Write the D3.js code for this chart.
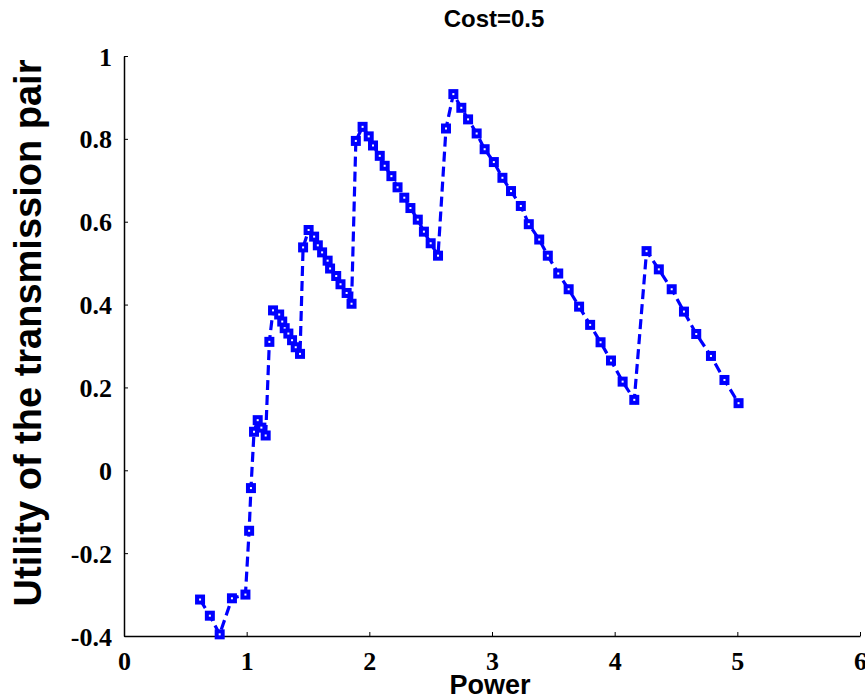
<!DOCTYPE html>
<html>
<head>
<meta charset="utf-8">
<script src="https://cdn.jsdelivr.net/npm/d3@7"></script>
<style>
  html, body { margin: 0; padding: 0; background: #fff; }
  svg { display: block; }
  .tick text { font-family: "Liberation Serif", "Times New Roman", serif; font-weight: bold; font-size: 26px; fill: #000; }
  .label { font-family: "Liberation Sans", Arial, sans-serif; font-weight: bold; fill: #000; }
</style>
</head>
<body>
<svg width="865" height="695"></svg>
<script>
(function () {
    'use strict';

    const powerValues = [0.62, 0.70, 0.78, 0.88, 0.99, 1.02, 1.035, 1.06, 1.09, 1.12, 1.155,
        1.185, 1.215, 1.265, 1.29, 1.31, 1.34, 1.37, 1.40, 1.435,
        1.46, 1.505, 1.55, 1.58, 1.615, 1.66, 1.68, 1.73, 1.765, 1.815, 1.855,
        1.89, 1.945, 1.995, 2.03, 2.085, 2.125, 2.18, 2.23, 2.285, 2.335, 2.395, 2.445, 2.50, 2.56,
        2.625, 2.685, 2.75, 2.805, 2.875, 2.94, 3.015, 3.085, 3.155, 3.235, 3.30, 3.385, 3.455,
        3.54, 3.625, 3.71, 3.80, 3.885, 3.97, 4.065, 4.16,
        4.26, 4.36, 4.465, 4.565, 4.665, 4.785, 4.895, 5.01];

    const utilityValues = [-0.312, -0.351, -0.396, -0.309, -0.300, -0.146, -0.043, 0.093, 0.121, 0.103, 0.084,
        0.310, 0.386, 0.376, 0.359, 0.343, 0.330, 0.314, 0.297, 0.281,
        0.538, 0.580, 0.564, 0.543, 0.526, 0.506, 0.487, 0.469, 0.449, 0.428, 0.402,
        0.795, 0.829, 0.806, 0.784, 0.759, 0.735, 0.710, 0.683, 0.658, 0.633, 0.605, 0.576, 0.548, 0.518,
        0.825, 0.908, 0.875, 0.847, 0.813, 0.775, 0.744, 0.706, 0.674, 0.638, 0.594, 0.557, 0.518,
        0.475, 0.437, 0.395, 0.351, 0.309, 0.265, 0.214, 0.170,
        0.529, 0.485, 0.437, 0.383, 0.329, 0.276, 0.218, 0.162];

    const xTicks = [0, 1, 2, 3, 4, 5, 6];
    const yTicks = [-0.4, -0.2, 0, 0.2, 0.4, 0.6, 0.8, 1];

    const data = powerValues.map((p, i) => ({ power: p, utility: utilityValues[i] }));

    const svg = d3.select('svg');

    // plotgebied
    const left = 124;
    const top = 56;
    const width = 736;
    const height = 580;

    const chart = svg.append('g')
        .attr('transform', `translate(${left}, ${top})`);

    const xScale = d3.scaleLinear()
        .domain([0, 6])
        .range([0, width]);

    const yScale = d3.scaleLinear()
        .domain([-0.4, 1])
        .range([height, 0]);

    // x-as, ticks naar binnen
    const xAxis = chart.append('g')
        .attr('transform', `translate(0, ${height})`)
        .call(d3.axisBottom(xScale)
            .tickValues(xTicks)
            .tickFormat(d3.format('d'))
            .tickSizeInner(-4)
            .tickSizeOuter(0)
            .tickPadding(12));

    // y-as, labels zoals matlab (1 ipv 1.0)
    const yAxis = chart.append('g')
        .call(d3.axisLeft(yScale)
            .tickValues(yTicks)
            .tickFormat(d => String(+d.toFixed(1)))
            .tickSizeInner(-4)
            .tickSizeOuter(0)
            .tickPadding(12));

    [xAxis, yAxis].forEach(ax => {
        ax.select('.domain').attr('stroke', '#000').attr('stroke-width', 1.5);
        ax.selectAll('.tick line').attr('stroke', '#000').attr('stroke-width', 1);
        ax.attr('font-family', null).attr('font-size', null);
    });
    xAxis.selectAll('.tick text').attr('dy', '0.85em');
    yAxis.selectAll('.tick text').attr('dy', '0.35em');

    // stippellijn
    const line = d3.line()
        .x(d => xScale(d.power))
        .y(d => yScale(d.utility));

    chart.append('path')
        .datum(data)
        .attr('fill', 'none')
        .attr('stroke', '#0000ff')
        .attr('stroke-width', 3.2)
        .attr('stroke-dasharray', '10,5')
        .attr('d', line);

    // vierkantjes als markers
    const size = 6;
    chart.selectAll('.marker')
        .data(data)
        .enter()
        .append('rect')
        .attr('class', 'marker')
        .attr('x', d => xScale(d.power) - size / 2)
        .attr('y', d => yScale(d.utility) - size / 2)
        .attr('width', size)
        .attr('height', size)
        .attr('fill', '#fff')
        .attr('stroke', '#0000ff')
        .attr('stroke-width', 4);

    // titels
    svg.append('text')
        .attr('class', 'label')
        .attr('x', 494)
        .attr('y', 27)
        .attr('text-anchor', 'middle')
        .style('font-size', '24px')
        .text('Cost=0.5');

    svg.append('text')
        .attr('class', 'label')
        .attr('x', 490)
        .attr('y', 694)
        .attr('text-anchor', 'middle')
        .style('font-size', '27px')
        .text('Power');

    svg.append('text')
        .attr('class', 'label')
        .attr('transform', 'translate(41, 333) rotate(-90)')
        .attr('text-anchor', 'middle')
        .style('font-size', '38px')
        .text('Utility of the transmission pair');

}());
</script>
</body>
</html>
